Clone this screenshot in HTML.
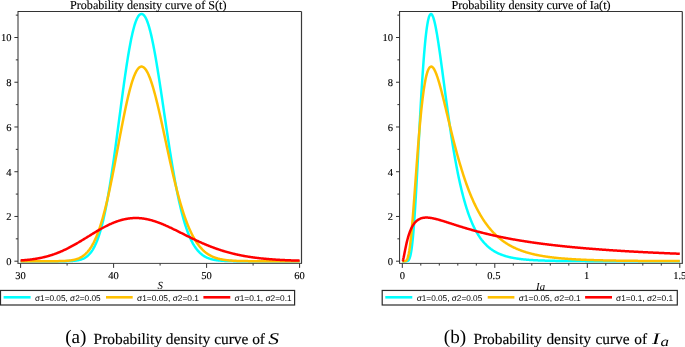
<!DOCTYPE html>
<html><head><meta charset="utf-8"><title>Probability density curves</title>
<style>html,body{margin:0;padding:0;background:#fff}svg{display:block;will-change:transform}</style></head>
<body>
<svg width="685" height="347" viewBox="0 0 685 347">
<style>
text{font-family:"Liberation Serif",serif;fill:#000;text-rendering:geometricPrecision}
.tk{font-size:10.5px;stroke:#000;stroke-width:0.12px}
.ti{font-size:12.15px;stroke:#000;stroke-width:0.12px}
.xl{font-size:10.8px;font-style:italic}
.lg{font-family:"Liberation Sans",sans-serif;font-size:8.3px;fill:#000}
.cp{font-size:15.4px;fill:#000;stroke:#000;stroke-width:0.15px}
.cl{font-size:19.2px;fill:#000}
.mi{font-size:15px;font-style:italic;fill:#000}
</style>
<rect width="685" height="347" fill="#fff"/>
<line x1="18" y1="11.5" x2="301.5" y2="11.5" stroke="#333" stroke-width="1"/>
<line x1="301.5" y1="11.5" x2="301.5" y2="263.4" stroke="#3a3a3a" stroke-width="1.2"/>
<line x1="18" y1="11.0" x2="18" y2="263.4" stroke="#2a2a2a" stroke-width="1"/>
<path d="M20.60,261.20 L21.07,261.20 L21.53,261.20 L22.00,261.20 L22.46,261.20 L22.93,261.20 L23.39,261.20 L23.86,261.20 L24.33,261.20 L24.79,261.20 L25.26,261.20 L25.72,261.20 L26.19,261.20 L26.66,261.20 L27.12,261.20 L27.59,261.20 L28.05,261.20 L28.52,261.20 L28.98,261.20 L29.45,261.20 L29.92,261.20 L30.38,261.20 L30.85,261.20 L31.31,261.20 L31.78,261.20 L32.24,261.20 L32.71,261.20 L33.18,261.20 L33.64,261.20 L34.11,261.20 L34.57,261.20 L35.04,261.20 L35.50,261.20 L35.97,261.20 L36.44,261.20 L36.90,261.20 L37.37,261.20 L37.83,261.20 L38.30,261.20 L38.77,261.20 L39.23,261.20 L39.70,261.20 L40.16,261.20 L40.63,261.20 L41.09,261.20 L41.56,261.20 L42.03,261.20 L42.49,261.20 L42.96,261.20 L43.42,261.20 L43.89,261.20 L44.35,261.20 L44.82,261.20 L45.29,261.20 L45.75,261.20 L46.22,261.20 L46.68,261.20 L47.15,261.20 L47.62,261.20 L48.08,261.20 L48.55,261.20 L49.01,261.20 L49.48,261.20 L49.94,261.20 L50.41,261.20 L50.88,261.20 L51.34,261.20 L51.81,261.20 L52.27,261.20 L52.74,261.20 L53.20,261.20 L53.67,261.20 L54.14,261.20 L54.60,261.20 L55.07,261.20 L55.53,261.20 L56.00,261.20 L56.46,261.20 L56.93,261.19 L57.40,261.19 L57.86,261.19 L58.33,261.19 L58.79,261.19 L59.26,261.19 L59.73,261.19 L60.19,261.19 L60.66,261.19 L61.12,261.18 L61.59,261.18 L62.05,261.18 L62.52,261.18 L62.99,261.17 L63.45,261.17 L63.92,261.16 L64.38,261.16 L64.85,261.15 L65.31,261.15 L65.78,261.14 L66.25,261.13 L66.71,261.13 L67.18,261.12 L67.64,261.11 L68.11,261.09 L68.57,261.08 L69.04,261.07 L69.51,261.05 L69.97,261.03 L70.44,261.02 L70.90,260.99 L71.37,260.97 L71.84,260.95 L72.30,260.92 L72.77,260.89 L73.23,260.85 L73.70,260.81 L74.16,260.77 L74.63,260.73 L75.10,260.68 L75.56,260.62 L76.03,260.57 L76.49,260.50 L76.96,260.43 L77.42,260.36 L77.89,260.27 L78.36,260.18 L78.82,260.08 L79.29,259.98 L79.75,259.86 L80.22,259.74 L80.69,259.60 L81.15,259.46 L81.62,259.30 L82.08,259.13 L82.55,258.95 L83.01,258.75 L83.48,258.54 L83.95,258.31 L84.41,258.07 L84.88,257.81 L85.34,257.53 L85.81,257.23 L86.27,256.91 L86.74,256.57 L87.21,256.20 L87.67,255.81 L88.14,255.40 L88.60,254.96 L89.07,254.49 L89.53,254.00 L90.00,253.47 L90.47,252.91 L90.93,252.32 L91.40,251.69 L91.86,251.03 L92.33,250.33 L92.80,249.59 L93.26,248.81 L93.73,247.99 L94.19,247.13 L94.66,246.22 L95.12,245.27 L95.59,244.27 L96.06,243.22 L96.52,242.13 L96.99,240.98 L97.45,239.78 L97.92,238.52 L98.38,237.21 L98.85,235.84 L99.32,234.42 L99.78,232.94 L100.25,231.39 L100.71,229.79 L101.18,228.13 L101.65,226.40 L102.11,224.61 L102.58,222.76 L103.04,220.85 L103.51,218.87 L103.97,216.82 L104.44,214.71 L104.91,212.54 L105.37,210.29 L105.84,207.99 L106.30,205.62 L106.77,203.18 L107.23,200.68 L107.70,198.12 L108.17,195.50 L108.63,192.81 L109.10,190.06 L109.56,187.25 L110.03,184.39 L110.49,181.47 L110.96,178.49 L111.43,175.46 L111.89,172.38 L112.36,169.24 L112.82,166.07 L113.29,162.84 L113.76,159.58 L114.22,156.27 L114.69,152.93 L115.15,149.55 L115.62,146.14 L116.08,142.71 L116.55,139.25 L117.02,135.76 L117.48,132.26 L117.95,128.75 L118.41,125.22 L118.88,121.69 L119.34,118.15 L119.81,114.61 L120.28,111.08 L120.74,107.56 L121.21,104.04 L121.67,100.55 L122.14,97.07 L122.61,93.62 L123.07,90.20 L123.54,86.80 L124.00,83.45 L124.47,80.14 L124.93,76.87 L125.40,73.64 L125.87,70.48 L126.33,67.36 L126.80,64.31 L127.26,61.32 L127.73,58.40 L128.19,55.55 L128.66,52.77 L129.13,50.07 L129.59,47.45 L130.06,44.91 L130.52,42.46 L130.99,40.10 L131.45,37.83 L131.92,35.66 L132.39,33.58 L132.85,31.60 L133.32,29.72 L133.78,27.95 L134.25,26.28 L134.72,24.71 L135.18,23.25 L135.65,21.89 L136.11,20.65 L136.58,19.51 L137.04,18.48 L137.51,17.57 L137.98,16.75 L138.44,16.05 L138.91,15.46 L139.37,14.97 L139.84,14.58 L140.30,14.30 L140.77,14.11 L141.24,14.02 L141.70,14.02 L142.17,14.10 L142.63,14.27 L143.10,14.53 L143.56,14.90 L144.03,15.37 L144.50,15.94 L144.96,16.61 L145.43,17.38 L145.89,18.26 L146.36,19.24 L146.83,20.32 L147.29,21.50 L147.76,22.78 L148.22,24.15 L148.69,25.63 L149.15,27.20 L149.62,28.86 L150.09,30.61 L150.55,32.45 L151.02,34.38 L151.48,36.40 L151.95,38.49 L152.41,40.67 L152.88,42.92 L153.35,45.25 L153.81,47.65 L154.28,50.11 L154.74,52.65 L155.21,55.24 L155.68,57.89 L156.14,60.60 L156.61,63.36 L157.07,66.18 L157.54,69.03 L158.00,71.93 L158.47,74.87 L158.94,77.85 L159.40,80.86 L159.87,83.90 L160.33,86.97 L160.80,90.06 L161.26,93.17 L161.73,96.29 L162.20,99.43 L162.66,102.58 L163.13,105.74 L163.59,108.91 L164.06,112.07 L164.52,115.23 L164.99,118.39 L165.46,121.55 L165.92,124.69 L166.39,127.82 L166.85,130.93 L167.32,134.03 L167.79,137.11 L168.25,140.17 L168.72,143.20 L169.18,146.21 L169.65,149.19 L170.11,152.14 L170.58,155.05 L171.05,157.94 L171.51,160.79 L171.98,163.60 L172.44,166.37 L172.91,169.11 L173.37,171.80 L173.84,174.45 L174.31,177.06 L174.77,179.63 L175.24,182.15 L175.70,184.62 L176.17,187.05 L176.64,189.43 L177.10,191.77 L177.57,194.05 L178.03,196.29 L178.50,198.48 L178.96,200.62 L179.43,202.72 L179.90,204.76 L180.36,206.76 L180.83,208.70 L181.29,210.60 L181.76,212.45 L182.22,214.25 L182.69,216.00 L183.16,217.71 L183.62,219.37 L184.09,220.98 L184.55,222.54 L185.02,224.06 L185.48,225.53 L185.95,226.96 L186.42,228.35 L186.88,229.69 L187.35,230.99 L187.81,232.24 L188.28,233.46 L188.75,234.64 L189.21,235.77 L189.68,236.87 L190.14,237.93 L190.61,238.95 L191.07,239.93 L191.54,240.88 L192.01,241.80 L192.47,242.68 L192.94,243.52 L193.40,244.34 L193.87,245.12 L194.33,245.88 L194.80,246.60 L195.27,247.29 L195.73,247.96 L196.20,248.60 L196.66,249.21 L197.13,249.80 L197.59,250.37 L198.06,250.90 L198.53,251.42 L198.99,251.91 L199.46,252.39 L199.92,252.84 L200.39,253.27 L200.86,253.68 L201.32,254.07 L201.79,254.45 L202.25,254.81 L202.72,255.15 L203.18,255.47 L203.65,255.78 L204.12,256.08 L204.58,256.36 L205.05,256.62 L205.51,256.88 L205.98,257.12 L206.44,257.35 L206.91,257.56 L207.38,257.77 L207.84,257.97 L208.31,258.15 L208.77,258.33 L209.24,258.50 L209.71,258.65 L210.17,258.80 L210.64,258.94 L211.10,259.08 L211.57,259.21 L212.03,259.33 L212.50,259.44 L212.97,259.55 L213.43,259.65 L213.90,259.74 L214.36,259.83 L214.83,259.92 L215.29,260.00 L215.76,260.07 L216.23,260.14 L216.69,260.21 L217.16,260.27 L217.62,260.33 L218.09,260.39 L218.55,260.44 L219.02,260.49 L219.49,260.54 L219.95,260.58 L220.42,260.62 L220.88,260.66 L221.35,260.70 L221.82,260.73 L222.28,260.76 L222.75,260.79 L223.21,260.82 L223.68,260.84 L224.14,260.87 L224.61,260.89 L225.08,260.91 L225.54,260.93 L226.01,260.95 L226.47,260.97 L226.94,260.99 L227.40,261.00 L227.87,261.01 L228.34,261.03 L228.80,261.04 L229.27,261.05 L229.73,261.06 L230.20,261.07 L230.67,261.08 L231.13,261.09 L231.60,261.10 L232.06,261.11 L232.53,261.11 L232.99,261.12 L233.46,261.13 L233.93,261.13 L234.39,261.14 L234.86,261.14 L235.32,261.15 L235.79,261.15 L236.25,261.15 L236.72,261.16 L237.19,261.16 L237.65,261.16 L238.12,261.17 L238.58,261.17 L239.05,261.17 L239.51,261.17 L239.98,261.18 L240.45,261.18 L240.91,261.18 L241.38,261.18 L241.84,261.18 L242.31,261.18 L242.78,261.19 L243.24,261.19 L243.71,261.19 L244.17,261.19 L244.64,261.19 L245.10,261.19 L245.57,261.19 L246.04,261.19 L246.50,261.19 L246.97,261.19 L247.43,261.19 L247.90,261.19 L248.36,261.19 L248.83,261.20 L249.30,261.20 L249.76,261.20 L250.23,261.20 L250.69,261.20 L251.16,261.20 L251.63,261.20 L252.09,261.20 L252.56,261.20 L253.02,261.20 L253.49,261.20 L253.95,261.20 L254.42,261.20 L254.89,261.20 L255.35,261.20 L255.82,261.20 L256.28,261.20 L256.75,261.20 L257.21,261.20 L257.68,261.20 L258.15,261.20 L258.61,261.20 L259.08,261.20 L259.54,261.20 L260.01,261.20 L260.47,261.20 L260.94,261.20 L261.41,261.20 L261.87,261.20 L262.34,261.20 L262.80,261.20 L263.27,261.20 L263.74,261.20 L264.20,261.20 L264.67,261.20 L265.13,261.20 L265.60,261.20 L266.06,261.20 L266.53,261.20 L267.00,261.20 L267.46,261.20 L267.93,261.20 L268.39,261.20 L268.86,261.20 L269.32,261.20 L269.79,261.20 L270.26,261.20 L270.72,261.20 L271.19,261.20 L271.65,261.20 L272.12,261.20 L272.58,261.20 L273.05,261.20 L273.52,261.20 L273.98,261.20 L274.45,261.20 L274.91,261.20 L275.38,261.20 L275.85,261.20 L276.31,261.20 L276.78,261.20 L277.24,261.20 L277.71,261.20 L278.17,261.20 L278.64,261.20 L279.11,261.20 L279.57,261.20 L280.04,261.20 L280.50,261.20 L280.97,261.20 L281.43,261.20 L281.90,261.20 L282.37,261.20 L282.83,261.20 L283.30,261.20 L283.76,261.20 L284.23,261.20 L284.70,261.20 L285.16,261.20 L285.63,261.20 L286.09,261.20 L286.56,261.20 L287.02,261.20 L287.49,261.20 L287.96,261.20 L288.42,261.20 L288.89,261.20 L289.35,261.20 L289.82,261.20 L290.28,261.20 L290.75,261.20 L291.22,261.20 L291.68,261.20 L292.15,261.20 L292.61,261.20 L293.08,261.20 L293.54,261.20 L294.01,261.20 L294.48,261.20 L294.94,261.20 L295.41,261.20 L295.87,261.20 L296.34,261.20 L296.81,261.20 L297.27,261.20 L297.74,261.20 L298.20,261.20 L298.67,261.20 L299.13,261.20 L299.60,261.20" fill="none" stroke="#00ffff" stroke-width="2.5" stroke-linejoin="round" stroke-linecap="butt"/>
<path d="M20.60,261.20 L21.07,261.20 L21.53,261.20 L22.00,261.20 L22.46,261.20 L22.93,261.20 L23.39,261.20 L23.86,261.20 L24.33,261.20 L24.79,261.20 L25.26,261.20 L25.72,261.20 L26.19,261.20 L26.66,261.20 L27.12,261.20 L27.59,261.20 L28.05,261.20 L28.52,261.20 L28.98,261.20 L29.45,261.20 L29.92,261.20 L30.38,261.20 L30.85,261.20 L31.31,261.20 L31.78,261.20 L32.24,261.20 L32.71,261.20 L33.18,261.20 L33.64,261.20 L34.11,261.20 L34.57,261.20 L35.04,261.20 L35.50,261.20 L35.97,261.20 L36.44,261.20 L36.90,261.20 L37.37,261.20 L37.83,261.20 L38.30,261.20 L38.77,261.20 L39.23,261.20 L39.70,261.20 L40.16,261.20 L40.63,261.20 L41.09,261.20 L41.56,261.20 L42.03,261.20 L42.49,261.20 L42.96,261.20 L43.42,261.20 L43.89,261.20 L44.35,261.20 L44.82,261.20 L45.29,261.20 L45.75,261.20 L46.22,261.20 L46.68,261.20 L47.15,261.19 L47.62,261.19 L48.08,261.19 L48.55,261.19 L49.01,261.19 L49.48,261.19 L49.94,261.19 L50.41,261.19 L50.88,261.19 L51.34,261.18 L51.81,261.18 L52.27,261.18 L52.74,261.18 L53.20,261.18 L53.67,261.17 L54.14,261.17 L54.60,261.17 L55.07,261.16 L55.53,261.16 L56.00,261.15 L56.46,261.15 L56.93,261.14 L57.40,261.14 L57.86,261.13 L58.33,261.13 L58.79,261.12 L59.26,261.11 L59.73,261.10 L60.19,261.09 L60.66,261.08 L61.12,261.07 L61.59,261.05 L62.05,261.04 L62.52,261.02 L62.99,261.01 L63.45,260.99 L63.92,260.97 L64.38,260.94 L64.85,260.92 L65.31,260.90 L65.78,260.87 L66.25,260.84 L66.71,260.80 L67.18,260.77 L67.64,260.73 L68.11,260.69 L68.57,260.65 L69.04,260.60 L69.51,260.55 L69.97,260.49 L70.44,260.43 L70.90,260.37 L71.37,260.30 L71.84,260.23 L72.30,260.15 L72.77,260.06 L73.23,259.97 L73.70,259.88 L74.16,259.77 L74.63,259.66 L75.10,259.55 L75.56,259.42 L76.03,259.29 L76.49,259.15 L76.96,258.99 L77.42,258.83 L77.89,258.66 L78.36,258.48 L78.82,258.29 L79.29,258.09 L79.75,257.87 L80.22,257.64 L80.69,257.40 L81.15,257.14 L81.62,256.87 L82.08,256.58 L82.55,256.28 L83.01,255.96 L83.48,255.63 L83.95,255.28 L84.41,254.90 L84.88,254.51 L85.34,254.10 L85.81,253.67 L86.27,253.22 L86.74,252.74 L87.21,252.25 L87.67,251.73 L88.14,251.18 L88.60,250.61 L89.07,250.01 L89.53,249.39 L90.00,248.74 L90.47,248.06 L90.93,247.35 L91.40,246.62 L91.86,245.85 L92.33,245.05 L92.80,244.22 L93.26,243.36 L93.73,242.47 L94.19,241.54 L94.66,240.57 L95.12,239.58 L95.59,238.54 L96.06,237.47 L96.52,236.37 L96.99,235.22 L97.45,234.04 L97.92,232.82 L98.38,231.57 L98.85,230.27 L99.32,228.94 L99.78,227.56 L100.25,226.15 L100.71,224.69 L101.18,223.20 L101.65,221.67 L102.11,220.10 L102.58,218.48 L103.04,216.83 L103.51,215.14 L103.97,213.41 L104.44,211.64 L104.91,209.83 L105.37,207.98 L105.84,206.10 L106.30,204.17 L106.77,202.21 L107.23,200.22 L107.70,198.19 L108.17,196.13 L108.63,194.03 L109.10,191.90 L109.56,189.73 L110.03,187.54 L110.49,185.32 L110.96,183.07 L111.43,180.79 L111.89,178.49 L112.36,176.16 L112.82,173.81 L113.29,171.44 L113.76,169.05 L114.22,166.65 L114.69,164.22 L115.15,161.79 L115.62,159.34 L116.08,156.88 L116.55,154.41 L117.02,151.94 L117.48,149.46 L117.95,146.98 L118.41,144.49 L118.88,142.01 L119.34,139.54 L119.81,137.07 L120.28,134.61 L120.74,132.16 L121.21,129.72 L121.67,127.30 L122.14,124.89 L122.61,122.51 L123.07,120.15 L123.54,117.81 L124.00,115.50 L124.47,113.22 L124.93,110.97 L125.40,108.75 L125.87,106.57 L126.33,104.43 L126.80,102.33 L127.26,100.27 L127.73,98.25 L128.19,96.28 L128.66,94.36 L129.13,92.49 L129.59,90.68 L130.06,88.91 L130.52,87.21 L130.99,85.56 L131.45,83.97 L131.92,82.44 L132.39,80.98 L132.85,79.58 L133.32,78.24 L133.78,76.98 L134.25,75.78 L134.72,74.65 L135.18,73.59 L135.65,72.60 L136.11,71.69 L136.58,70.85 L137.04,70.08 L137.51,69.39 L137.98,68.77 L138.44,68.23 L138.91,67.77 L139.37,67.38 L139.84,67.07 L140.30,66.83 L140.77,66.67 L141.24,66.59 L141.70,66.59 L142.17,66.66 L142.63,66.80 L143.10,67.02 L143.56,67.30 L144.03,67.66 L144.50,68.10 L144.96,68.60 L145.43,69.17 L145.89,69.81 L146.36,70.52 L146.83,71.30 L147.29,72.14 L147.76,73.05 L148.22,74.02 L148.69,75.06 L149.15,76.15 L149.62,77.31 L150.09,78.52 L150.55,79.79 L151.02,81.11 L151.48,82.49 L151.95,83.92 L152.41,85.40 L152.88,86.93 L153.35,88.51 L153.81,90.13 L154.28,91.80 L154.74,93.51 L155.21,95.26 L155.68,97.04 L156.14,98.86 L156.61,100.72 L157.07,102.61 L157.54,104.53 L158.00,106.48 L158.47,108.46 L158.94,110.46 L159.40,112.49 L159.87,114.54 L160.33,116.60 L160.80,118.69 L161.26,120.79 L161.73,122.91 L162.20,125.04 L162.66,127.18 L163.13,129.32 L163.59,131.48 L164.06,133.64 L164.52,135.81 L164.99,137.98 L165.46,140.15 L165.92,142.32 L166.39,144.49 L166.85,146.66 L167.32,148.82 L167.79,150.98 L168.25,153.12 L168.72,155.26 L169.18,157.39 L169.65,159.51 L170.11,161.61 L170.58,163.71 L171.05,165.78 L171.51,167.85 L171.98,169.89 L172.44,171.92 L172.91,173.93 L173.37,175.92 L173.84,177.89 L174.31,179.83 L174.77,181.76 L175.24,183.67 L175.70,185.55 L176.17,187.40 L176.64,189.24 L177.10,191.04 L177.57,192.83 L178.03,194.58 L178.50,196.31 L178.96,198.02 L179.43,199.70 L179.90,201.35 L180.36,202.97 L180.83,204.56 L181.29,206.13 L181.76,207.67 L182.22,209.18 L182.69,210.66 L183.16,212.11 L183.62,213.54 L184.09,214.94 L184.55,216.30 L185.02,217.65 L185.48,218.96 L185.95,220.24 L186.42,221.50 L186.88,222.72 L187.35,223.92 L187.81,225.10 L188.28,226.24 L188.75,227.36 L189.21,228.45 L189.68,229.52 L190.14,230.55 L190.61,231.57 L191.07,232.55 L191.54,233.51 L192.01,234.45 L192.47,235.36 L192.94,236.25 L193.40,237.11 L193.87,237.95 L194.33,238.76 L194.80,239.55 L195.27,240.32 L195.73,241.07 L196.20,241.80 L196.66,242.50 L197.13,243.18 L197.59,243.85 L198.06,244.49 L198.53,245.11 L198.99,245.72 L199.46,246.30 L199.92,246.87 L200.39,247.42 L200.86,247.95 L201.32,248.46 L201.79,248.96 L202.25,249.44 L202.72,249.90 L203.18,250.35 L203.65,250.78 L204.12,251.20 L204.58,251.60 L205.05,251.99 L205.51,252.37 L205.98,252.73 L206.44,253.08 L206.91,253.42 L207.38,253.75 L207.84,254.06 L208.31,254.36 L208.77,254.65 L209.24,254.93 L209.71,255.20 L210.17,255.46 L210.64,255.71 L211.10,255.95 L211.57,256.18 L212.03,256.40 L212.50,256.61 L212.97,256.81 L213.43,257.01 L213.90,257.20 L214.36,257.38 L214.83,257.55 L215.29,257.72 L215.76,257.88 L216.23,258.03 L216.69,258.18 L217.16,258.32 L217.62,258.45 L218.09,258.58 L218.55,258.70 L219.02,258.82 L219.49,258.93 L219.95,259.04 L220.42,259.14 L220.88,259.24 L221.35,259.34 L221.82,259.43 L222.28,259.51 L222.75,259.60 L223.21,259.68 L223.68,259.75 L224.14,259.82 L224.61,259.89 L225.08,259.96 L225.54,260.02 L226.01,260.08 L226.47,260.13 L226.94,260.19 L227.40,260.24 L227.87,260.29 L228.34,260.34 L228.80,260.38 L229.27,260.42 L229.73,260.46 L230.20,260.50 L230.67,260.54 L231.13,260.57 L231.60,260.61 L232.06,260.64 L232.53,260.67 L232.99,260.70 L233.46,260.72 L233.93,260.75 L234.39,260.77 L234.86,260.80 L235.32,260.82 L235.79,260.84 L236.25,260.86 L236.72,260.88 L237.19,260.89 L237.65,260.91 L238.12,260.93 L238.58,260.94 L239.05,260.96 L239.51,260.97 L239.98,260.98 L240.45,261.00 L240.91,261.01 L241.38,261.02 L241.84,261.03 L242.31,261.04 L242.78,261.05 L243.24,261.06 L243.71,261.06 L244.17,261.07 L244.64,261.08 L245.10,261.09 L245.57,261.09 L246.04,261.10 L246.50,261.11 L246.97,261.11 L247.43,261.12 L247.90,261.12 L248.36,261.13 L248.83,261.13 L249.30,261.13 L249.76,261.14 L250.23,261.14 L250.69,261.15 L251.16,261.15 L251.63,261.15 L252.09,261.15 L252.56,261.16 L253.02,261.16 L253.49,261.16 L253.95,261.16 L254.42,261.17 L254.89,261.17 L255.35,261.17 L255.82,261.17 L256.28,261.17 L256.75,261.18 L257.21,261.18 L257.68,261.18 L258.15,261.18 L258.61,261.18 L259.08,261.18 L259.54,261.18 L260.01,261.18 L260.47,261.19 L260.94,261.19 L261.41,261.19 L261.87,261.19 L262.34,261.19 L262.80,261.19 L263.27,261.19 L263.74,261.19 L264.20,261.19 L264.67,261.19 L265.13,261.19 L265.60,261.19 L266.06,261.19 L266.53,261.19 L267.00,261.19 L267.46,261.19 L267.93,261.20 L268.39,261.20 L268.86,261.20 L269.32,261.20 L269.79,261.20 L270.26,261.20 L270.72,261.20 L271.19,261.20 L271.65,261.20 L272.12,261.20 L272.58,261.20 L273.05,261.20 L273.52,261.20 L273.98,261.20 L274.45,261.20 L274.91,261.20 L275.38,261.20 L275.85,261.20 L276.31,261.20 L276.78,261.20 L277.24,261.20 L277.71,261.20 L278.17,261.20 L278.64,261.20 L279.11,261.20 L279.57,261.20 L280.04,261.20 L280.50,261.20 L280.97,261.20 L281.43,261.20 L281.90,261.20 L282.37,261.20 L282.83,261.20 L283.30,261.20 L283.76,261.20 L284.23,261.20 L284.70,261.20 L285.16,261.20 L285.63,261.20 L286.09,261.20 L286.56,261.20 L287.02,261.20 L287.49,261.20 L287.96,261.20 L288.42,261.20 L288.89,261.20 L289.35,261.20 L289.82,261.20 L290.28,261.20 L290.75,261.20 L291.22,261.20 L291.68,261.20 L292.15,261.20 L292.61,261.20 L293.08,261.20 L293.54,261.20 L294.01,261.20 L294.48,261.20 L294.94,261.20 L295.41,261.20 L295.87,261.20 L296.34,261.20 L296.81,261.20 L297.27,261.20 L297.74,261.20 L298.20,261.20 L298.67,261.20 L299.13,261.20 L299.60,261.20" fill="none" stroke="#ffc000" stroke-width="2.5" stroke-linejoin="round" stroke-linecap="butt"/>
<path d="M20.60,260.43 L21.07,260.39 L21.53,260.36 L22.00,260.33 L22.46,260.30 L22.93,260.26 L23.39,260.23 L23.86,260.19 L24.33,260.15 L24.79,260.11 L25.26,260.07 L25.72,260.03 L26.19,259.99 L26.66,259.94 L27.12,259.90 L27.59,259.85 L28.05,259.80 L28.52,259.75 L28.98,259.70 L29.45,259.65 L29.92,259.60 L30.38,259.54 L30.85,259.49 L31.31,259.43 L31.78,259.37 L32.24,259.31 L32.71,259.24 L33.18,259.18 L33.64,259.11 L34.11,259.04 L34.57,258.97 L35.04,258.90 L35.50,258.83 L35.97,258.75 L36.44,258.68 L36.90,258.60 L37.37,258.52 L37.83,258.43 L38.30,258.35 L38.77,258.26 L39.23,258.18 L39.70,258.08 L40.16,257.99 L40.63,257.90 L41.09,257.80 L41.56,257.70 L42.03,257.60 L42.49,257.50 L42.96,257.39 L43.42,257.29 L43.89,257.18 L44.35,257.06 L44.82,256.95 L45.29,256.83 L45.75,256.72 L46.22,256.59 L46.68,256.47 L47.15,256.35 L47.62,256.22 L48.08,256.09 L48.55,255.95 L49.01,255.82 L49.48,255.68 L49.94,255.54 L50.41,255.40 L50.88,255.25 L51.34,255.11 L51.81,254.96 L52.27,254.80 L52.74,254.65 L53.20,254.49 L53.67,254.33 L54.14,254.17 L54.60,254.00 L55.07,253.84 L55.53,253.67 L56.00,253.50 L56.46,253.32 L56.93,253.14 L57.40,252.96 L57.86,252.78 L58.33,252.60 L58.79,252.41 L59.26,252.22 L59.73,252.03 L60.19,251.83 L60.66,251.63 L61.12,251.43 L61.59,251.23 L62.05,251.03 L62.52,250.82 L62.99,250.61 L63.45,250.40 L63.92,250.18 L64.38,249.96 L64.85,249.75 L65.31,249.52 L65.78,249.30 L66.25,249.07 L66.71,248.85 L67.18,248.61 L67.64,248.38 L68.11,248.15 L68.57,247.91 L69.04,247.67 L69.51,247.43 L69.97,247.19 L70.44,246.94 L70.90,246.69 L71.37,246.44 L71.84,246.19 L72.30,245.94 L72.77,245.68 L73.23,245.43 L73.70,245.17 L74.16,244.91 L74.63,244.65 L75.10,244.38 L75.56,244.12 L76.03,243.85 L76.49,243.58 L76.96,243.31 L77.42,243.04 L77.89,242.77 L78.36,242.50 L78.82,242.22 L79.29,241.95 L79.75,241.67 L80.22,241.39 L80.69,241.11 L81.15,240.83 L81.62,240.55 L82.08,240.27 L82.55,239.98 L83.01,239.70 L83.48,239.42 L83.95,239.13 L84.41,238.85 L84.88,238.56 L85.34,238.27 L85.81,237.99 L86.27,237.70 L86.74,237.41 L87.21,237.13 L87.67,236.84 L88.14,236.55 L88.60,236.26 L89.07,235.98 L89.53,235.69 L90.00,235.40 L90.47,235.12 L90.93,234.83 L91.40,234.54 L91.86,234.26 L92.33,233.97 L92.80,233.69 L93.26,233.40 L93.73,233.12 L94.19,232.84 L94.66,232.56 L95.12,232.28 L95.59,232.00 L96.06,231.72 L96.52,231.44 L96.99,231.17 L97.45,230.90 L97.92,230.62 L98.38,230.35 L98.85,230.08 L99.32,229.81 L99.78,229.55 L100.25,229.28 L100.71,229.02 L101.18,228.76 L101.65,228.50 L102.11,228.24 L102.58,227.98 L103.04,227.73 L103.51,227.48 L103.97,227.23 L104.44,226.98 L104.91,226.74 L105.37,226.50 L105.84,226.26 L106.30,226.02 L106.77,225.79 L107.23,225.56 L107.70,225.33 L108.17,225.10 L108.63,224.88 L109.10,224.66 L109.56,224.44 L110.03,224.22 L110.49,224.01 L110.96,223.80 L111.43,223.60 L111.89,223.39 L112.36,223.20 L112.82,223.00 L113.29,222.81 L113.76,222.62 L114.22,222.43 L114.69,222.25 L115.15,222.07 L115.62,221.89 L116.08,221.72 L116.55,221.55 L117.02,221.39 L117.48,221.23 L117.95,221.07 L118.41,220.92 L118.88,220.77 L119.34,220.62 L119.81,220.48 L120.28,220.34 L120.74,220.20 L121.21,220.07 L121.67,219.95 L122.14,219.82 L122.61,219.70 L123.07,219.59 L123.54,219.48 L124.00,219.37 L124.47,219.27 L124.93,219.17 L125.40,219.07 L125.87,218.98 L126.33,218.90 L126.80,218.81 L127.26,218.73 L127.73,218.66 L128.19,218.59 L128.66,218.52 L129.13,218.46 L129.59,218.40 L130.06,218.35 L130.52,218.30 L130.99,218.25 L131.45,218.21 L131.92,218.18 L132.39,218.14 L132.85,218.11 L133.32,218.09 L133.78,218.07 L134.25,218.05 L134.72,218.04 L135.18,218.03 L135.65,218.03 L136.11,218.03 L136.58,218.03 L137.04,218.04 L137.51,218.05 L137.98,218.07 L138.44,218.09 L138.91,218.11 L139.37,218.14 L139.84,218.18 L140.30,218.22 L140.77,218.26 L141.24,218.30 L141.70,218.35 L142.17,218.41 L142.63,218.47 L143.10,218.53 L143.56,218.59 L144.03,218.66 L144.50,218.74 L144.96,218.82 L145.43,218.90 L145.89,218.98 L146.36,219.07 L146.83,219.16 L147.29,219.26 L147.76,219.36 L148.22,219.46 L148.69,219.57 L149.15,219.68 L149.62,219.80 L150.09,219.91 L150.55,220.04 L151.02,220.16 L151.48,220.29 L151.95,220.42 L152.41,220.55 L152.88,220.69 L153.35,220.83 L153.81,220.97 L154.28,221.12 L154.74,221.27 L155.21,221.42 L155.68,221.58 L156.14,221.73 L156.61,221.89 L157.07,222.06 L157.54,222.22 L158.00,222.39 L158.47,222.56 L158.94,222.74 L159.40,222.91 L159.87,223.09 L160.33,223.27 L160.80,223.46 L161.26,223.64 L161.73,223.83 L162.20,224.02 L162.66,224.21 L163.13,224.40 L163.59,224.60 L164.06,224.80 L164.52,225.00 L164.99,225.20 L165.46,225.40 L165.92,225.61 L166.39,225.81 L166.85,226.02 L167.32,226.23 L167.79,226.44 L168.25,226.66 L168.72,226.87 L169.18,227.09 L169.65,227.30 L170.11,227.52 L170.58,227.74 L171.05,227.96 L171.51,228.18 L171.98,228.40 L172.44,228.63 L172.91,228.85 L173.37,229.08 L173.84,229.30 L174.31,229.53 L174.77,229.76 L175.24,229.99 L175.70,230.22 L176.17,230.45 L176.64,230.68 L177.10,230.91 L177.57,231.14 L178.03,231.37 L178.50,231.60 L178.96,231.83 L179.43,232.07 L179.90,232.30 L180.36,232.53 L180.83,232.77 L181.29,233.00 L181.76,233.23 L182.22,233.47 L182.69,233.70 L183.16,233.94 L183.62,234.17 L184.09,234.40 L184.55,234.64 L185.02,234.87 L185.48,235.10 L185.95,235.34 L186.42,235.57 L186.88,235.80 L187.35,236.03 L187.81,236.26 L188.28,236.49 L188.75,236.72 L189.21,236.95 L189.68,237.18 L190.14,237.41 L190.61,237.64 L191.07,237.87 L191.54,238.10 L192.01,238.32 L192.47,238.55 L192.94,238.77 L193.40,239.00 L193.87,239.22 L194.33,239.44 L194.80,239.66 L195.27,239.88 L195.73,240.10 L196.20,240.32 L196.66,240.54 L197.13,240.76 L197.59,240.97 L198.06,241.19 L198.53,241.40 L198.99,241.62 L199.46,241.83 L199.92,242.04 L200.39,242.25 L200.86,242.46 L201.32,242.67 L201.79,242.87 L202.25,243.08 L202.72,243.28 L203.18,243.48 L203.65,243.69 L204.12,243.89 L204.58,244.09 L205.05,244.28 L205.51,244.48 L205.98,244.68 L206.44,244.87 L206.91,245.06 L207.38,245.25 L207.84,245.44 L208.31,245.63 L208.77,245.82 L209.24,246.01 L209.71,246.19 L210.17,246.37 L210.64,246.56 L211.10,246.74 L211.57,246.92 L212.03,247.09 L212.50,247.27 L212.97,247.44 L213.43,247.62 L213.90,247.79 L214.36,247.96 L214.83,248.13 L215.29,248.30 L215.76,248.46 L216.23,248.63 L216.69,248.79 L217.16,248.95 L217.62,249.12 L218.09,249.27 L218.55,249.43 L219.02,249.59 L219.49,249.74 L219.95,249.90 L220.42,250.05 L220.88,250.20 L221.35,250.35 L221.82,250.50 L222.28,250.64 L222.75,250.79 L223.21,250.93 L223.68,251.07 L224.14,251.21 L224.61,251.35 L225.08,251.49 L225.54,251.63 L226.01,251.76 L226.47,251.89 L226.94,252.03 L227.40,252.16 L227.87,252.29 L228.34,252.41 L228.80,252.54 L229.27,252.67 L229.73,252.79 L230.20,252.91 L230.67,253.03 L231.13,253.15 L231.60,253.27 L232.06,253.39 L232.53,253.50 L232.99,253.62 L233.46,253.73 L233.93,253.84 L234.39,253.95 L234.86,254.06 L235.32,254.17 L235.79,254.28 L236.25,254.38 L236.72,254.48 L237.19,254.59 L237.65,254.69 L238.12,254.79 L238.58,254.89 L239.05,254.99 L239.51,255.08 L239.98,255.18 L240.45,255.27 L240.91,255.36 L241.38,255.46 L241.84,255.55 L242.31,255.64 L242.78,255.72 L243.24,255.81 L243.71,255.90 L244.17,255.98 L244.64,256.07 L245.10,256.15 L245.57,256.23 L246.04,256.31 L246.50,256.39 L246.97,256.47 L247.43,256.54 L247.90,256.62 L248.36,256.70 L248.83,256.77 L249.30,256.84 L249.76,256.91 L250.23,256.99 L250.69,257.06 L251.16,257.13 L251.63,257.19 L252.09,257.26 L252.56,257.33 L253.02,257.39 L253.49,257.46 L253.95,257.52 L254.42,257.58 L254.89,257.64 L255.35,257.70 L255.82,257.76 L256.28,257.82 L256.75,257.88 L257.21,257.94 L257.68,257.99 L258.15,258.05 L258.61,258.10 L259.08,258.16 L259.54,258.21 L260.01,258.26 L260.47,258.32 L260.94,258.37 L261.41,258.42 L261.87,258.46 L262.34,258.51 L262.80,258.56 L263.27,258.61 L263.74,258.65 L264.20,258.70 L264.67,258.74 L265.13,258.79 L265.60,258.83 L266.06,258.87 L266.53,258.92 L267.00,258.96 L267.46,259.00 L267.93,259.04 L268.39,259.08 L268.86,259.12 L269.32,259.15 L269.79,259.19 L270.26,259.23 L270.72,259.26 L271.19,259.30 L271.65,259.34 L272.12,259.37 L272.58,259.40 L273.05,259.44 L273.52,259.47 L273.98,259.50 L274.45,259.53 L274.91,259.57 L275.38,259.60 L275.85,259.63 L276.31,259.66 L276.78,259.69 L277.24,259.71 L277.71,259.74 L278.17,259.77 L278.64,259.80 L279.11,259.82 L279.57,259.85 L280.04,259.88 L280.50,259.90 L280.97,259.93 L281.43,259.95 L281.90,259.97 L282.37,260.00 L282.83,260.02 L283.30,260.04 L283.76,260.07 L284.23,260.09 L284.70,260.11 L285.16,260.13 L285.63,260.15 L286.09,260.17 L286.56,260.19 L287.02,260.21 L287.49,260.23 L287.96,260.25 L288.42,260.27 L288.89,260.29 L289.35,260.31 L289.82,260.33 L290.28,260.34 L290.75,260.36 L291.22,260.38 L291.68,260.39 L292.15,260.41 L292.61,260.43 L293.08,260.44 L293.54,260.46 L294.01,260.47 L294.48,260.49 L294.94,260.50 L295.41,260.51 L295.87,260.53 L296.34,260.54 L296.81,260.56 L297.27,260.57 L297.74,260.58 L298.20,260.59 L298.67,260.61 L299.13,260.62 L299.60,260.63" fill="none" stroke="#ff0000" stroke-width="2.5" stroke-linejoin="round" stroke-linecap="butt"/>
<line x1="17.5" y1="263.4" x2="302.0" y2="263.4" stroke="#444" stroke-width="1"/>
<line x1="14.4" y1="261.20" x2="18" y2="261.20" stroke="#333" stroke-width="1"/>
<text x="11.5" y="265.00" text-anchor="end" class="tk">0</text>
<line x1="15.8" y1="238.83" x2="18" y2="238.83" stroke="#333" stroke-width="1"/>
<line x1="14.4" y1="216.46" x2="18" y2="216.46" stroke="#333" stroke-width="1"/>
<text x="11.5" y="220.26" text-anchor="end" class="tk">2</text>
<line x1="15.8" y1="194.09" x2="18" y2="194.09" stroke="#333" stroke-width="1"/>
<line x1="14.4" y1="171.72" x2="18" y2="171.72" stroke="#333" stroke-width="1"/>
<text x="11.5" y="175.52" text-anchor="end" class="tk">4</text>
<line x1="15.8" y1="149.35" x2="18" y2="149.35" stroke="#333" stroke-width="1"/>
<line x1="14.4" y1="126.98" x2="18" y2="126.98" stroke="#333" stroke-width="1"/>
<text x="11.5" y="130.78" text-anchor="end" class="tk">6</text>
<line x1="15.8" y1="104.61" x2="18" y2="104.61" stroke="#333" stroke-width="1"/>
<line x1="14.4" y1="82.24" x2="18" y2="82.24" stroke="#333" stroke-width="1"/>
<text x="11.5" y="86.04" text-anchor="end" class="tk">8</text>
<line x1="15.8" y1="59.87" x2="18" y2="59.87" stroke="#333" stroke-width="1"/>
<line x1="14.4" y1="37.50" x2="18" y2="37.50" stroke="#333" stroke-width="1"/>
<text x="11.5" y="41.30" text-anchor="end" class="tk">10</text>
<line x1="15.8" y1="15.13" x2="18" y2="15.13" stroke="#333" stroke-width="1"/>
<line x1="20.60" y1="263.4" x2="20.60" y2="267.9" stroke="#333" stroke-width="1"/>
<text x="20.60" y="278.59999999999997" text-anchor="middle" class="tk">30</text>
<line x1="113.60" y1="263.4" x2="113.60" y2="267.9" stroke="#333" stroke-width="1"/>
<text x="113.60" y="278.59999999999997" text-anchor="middle" class="tk">40</text>
<line x1="206.60" y1="263.4" x2="206.60" y2="267.9" stroke="#333" stroke-width="1"/>
<text x="206.60" y="278.59999999999997" text-anchor="middle" class="tk">50</text>
<line x1="299.60" y1="263.4" x2="299.60" y2="267.9" stroke="#333" stroke-width="1"/>
<text x="299.60" y="278.59999999999997" text-anchor="middle" class="tk">60</text>
<line x1="67.10" y1="263.4" x2="67.10" y2="265.59999999999997" stroke="#333" stroke-width="1"/>
<line x1="160.10" y1="263.4" x2="160.10" y2="265.59999999999997" stroke="#333" stroke-width="1"/>
<line x1="253.10" y1="263.4" x2="253.10" y2="265.59999999999997" stroke="#333" stroke-width="1"/>
<text x="148.2" y="8.9" text-anchor="middle" class="ti">Probability density curve of S(t)</text>
<text x="160.2" y="289.3" text-anchor="middle" class="xl">S</text>
<line x1="399.6" y1="11.5" x2="682.3" y2="11.5" stroke="#333" stroke-width="1"/>
<line x1="682.3" y1="11.5" x2="682.3" y2="263.4" stroke="#3a3a3a" stroke-width="1.2"/>
<line x1="399.6" y1="11.0" x2="399.6" y2="263.4" stroke="#2a2a2a" stroke-width="1"/>
<path d="M402.30,261.20 L402.76,261.20 L403.23,261.20 L403.69,261.20 L404.15,261.20 L404.62,261.20 L405.08,261.20 L405.54,261.20 L406.01,261.19 L406.47,261.16 L406.93,261.10 L407.40,260.99 L407.86,260.77 L408.32,260.42 L408.79,259.86 L409.25,259.06 L409.71,257.93 L410.18,256.42 L410.64,254.48 L411.10,252.05 L411.57,249.09 L412.03,245.57 L412.49,241.48 L412.96,236.81 L413.42,231.56 L413.88,225.75 L414.35,219.42 L414.81,212.59 L415.27,205.32 L415.73,197.65 L416.20,189.63 L416.66,181.34 L417.12,172.82 L417.59,164.13 L418.05,155.35 L418.51,146.52 L418.98,137.71 L419.44,128.97 L419.90,120.35 L420.37,111.89 L420.83,103.65 L421.29,95.65 L421.76,87.94 L422.22,80.54 L422.68,73.48 L423.15,66.79 L423.61,60.47 L424.07,54.55 L424.54,49.03 L425.00,43.93 L425.46,39.24 L425.93,34.97 L426.39,31.12 L426.85,27.68 L427.32,24.66 L427.78,22.03 L428.24,19.80 L428.71,17.95 L429.17,16.47 L429.63,15.35 L430.10,14.58 L430.56,14.14 L431.02,14.01 L431.49,14.19 L431.95,14.66 L432.41,15.41 L432.88,16.41 L433.34,17.65 L433.80,19.12 L434.27,20.81 L434.73,22.70 L435.19,24.77 L435.66,27.01 L436.12,29.41 L436.58,31.96 L437.05,34.64 L437.51,37.44 L437.97,40.35 L438.44,43.35 L438.90,46.45 L439.36,49.62 L439.83,52.86 L440.29,56.15 L440.75,59.50 L441.21,62.89 L441.68,66.31 L442.14,69.76 L442.60,73.23 L443.07,76.71 L443.53,80.20 L443.99,83.69 L444.46,87.18 L444.92,90.65 L445.38,94.12 L445.85,97.57 L446.31,100.99 L446.77,104.39 L447.24,107.77 L447.70,111.11 L448.16,114.42 L448.63,117.69 L449.09,120.92 L449.55,124.12 L450.02,127.27 L450.48,130.38 L450.94,133.44 L451.41,136.45 L451.87,139.42 L452.33,142.34 L452.80,145.21 L453.26,148.03 L453.72,150.80 L454.19,153.52 L454.65,156.19 L455.11,158.81 L455.58,161.38 L456.04,163.89 L456.50,166.36 L456.97,168.77 L457.43,171.13 L457.89,173.45 L458.36,175.71 L458.82,177.92 L459.28,180.09 L459.75,182.20 L460.21,184.27 L460.67,186.29 L461.14,188.27 L461.60,190.19 L462.06,192.08 L462.53,193.91 L462.99,195.71 L463.45,197.46 L463.92,199.16 L464.38,200.83 L464.84,202.45 L465.31,204.04 L465.77,205.58 L466.23,207.09 L466.69,208.55 L467.16,209.98 L467.62,211.38 L468.08,212.73 L468.55,214.05 L469.01,215.34 L469.47,216.60 L469.94,217.82 L470.40,219.01 L470.86,220.16 L471.33,221.29 L471.79,222.39 L472.25,223.46 L472.72,224.50 L473.18,225.51 L473.64,226.49 L474.11,227.45 L474.57,228.38 L475.03,229.29 L475.50,230.17 L475.96,231.03 L476.42,231.86 L476.89,232.67 L477.35,233.46 L477.81,234.23 L478.28,234.98 L478.74,235.70 L479.20,236.41 L479.67,237.10 L480.13,237.76 L480.59,238.41 L481.06,239.04 L481.52,239.66 L481.98,240.25 L482.45,240.83 L482.91,241.40 L483.37,241.95 L483.84,242.48 L484.30,243.00 L484.76,243.50 L485.23,243.99 L485.69,244.47 L486.15,244.93 L486.62,245.38 L487.08,245.81 L487.54,246.24 L488.01,246.65 L488.47,247.05 L488.93,247.44 L489.40,247.82 L489.86,248.19 L490.32,248.55 L490.78,248.90 L491.25,249.23 L491.71,249.56 L492.17,249.88 L492.64,250.19 L493.10,250.49 L493.56,250.79 L494.03,251.07 L494.49,251.35 L494.95,251.62 L495.42,251.88 L495.88,252.14 L496.34,252.38 L496.81,252.62 L497.27,252.86 L497.73,253.08 L498.20,253.30 L498.66,253.52 L499.12,253.73 L499.59,253.93 L500.05,254.13 L500.51,254.32 L500.98,254.51 L501.44,254.69 L501.90,254.86 L502.37,255.03 L502.83,255.20 L503.29,255.36 L503.76,255.52 L504.22,255.67 L504.68,255.82 L505.15,255.96 L505.61,256.10 L506.07,256.24 L506.54,256.37 L507.00,256.50 L507.46,256.63 L507.93,256.75 L508.39,256.87 L508.85,256.98 L509.32,257.10 L509.78,257.21 L510.24,257.31 L510.71,257.41 L511.17,257.51 L511.63,257.61 L512.10,257.71 L512.56,257.80 L513.02,257.89 L513.49,257.98 L513.95,258.06 L514.41,258.14 L514.88,258.22 L515.34,258.30 L515.80,258.38 L516.26,258.45 L516.73,258.52 L517.19,258.59 L517.65,258.66 L518.12,258.73 L518.58,258.79 L519.04,258.85 L519.51,258.92 L519.97,258.97 L520.43,259.03 L520.90,259.09 L521.36,259.14 L521.82,259.20 L522.29,259.25 L522.75,259.30 L523.21,259.35 L523.68,259.39 L524.14,259.44 L524.60,259.49 L525.07,259.53 L525.53,259.57 L525.99,259.61 L526.46,259.65 L526.92,259.69 L527.38,259.73 L527.85,259.77 L528.31,259.81 L528.77,259.84 L529.24,259.88 L529.70,259.91 L530.16,259.94 L530.63,259.97 L531.09,260.00 L531.55,260.04 L532.02,260.06 L532.48,260.09 L532.94,260.12 L533.41,260.15 L533.87,260.17 L534.33,260.20 L534.80,260.22 L535.26,260.25 L535.72,260.27 L536.19,260.30 L536.65,260.32 L537.11,260.34 L537.58,260.36 L538.04,260.38 L538.50,260.40 L538.97,260.42 L539.43,260.44 L539.89,260.46 L540.36,260.48 L540.82,260.50 L541.28,260.51 L541.74,260.53 L542.21,260.55 L542.67,260.56 L543.13,260.58 L543.60,260.59 L544.06,260.61 L544.52,260.62 L544.99,260.64 L545.45,260.65 L545.91,260.66 L546.38,260.68 L546.84,260.69 L547.30,260.70 L547.77,260.71 L548.23,260.73 L548.69,260.74 L549.16,260.75 L549.62,260.76 L550.08,260.77 L550.55,260.78 L551.01,260.79 L551.47,260.80 L551.94,260.81 L552.40,260.82 L552.86,260.83 L553.33,260.84 L553.79,260.85 L554.25,260.85 L554.72,260.86 L555.18,260.87 L555.64,260.88 L556.11,260.89 L556.57,260.89 L557.03,260.90 L557.50,260.91 L557.96,260.91 L558.42,260.92 L558.89,260.93 L559.35,260.93 L559.81,260.94 L560.28,260.95 L560.74,260.95 L561.20,260.96 L561.67,260.96 L562.13,260.97 L562.59,260.97 L563.06,260.98 L563.52,260.98 L563.98,260.99 L564.45,260.99 L564.91,261.00 L565.37,261.00 L565.84,261.01 L566.30,261.01 L566.76,261.02 L567.22,261.02 L567.69,261.03 L568.15,261.03 L568.61,261.03 L569.08,261.04 L569.54,261.04 L570.00,261.04 L570.47,261.05 L570.93,261.05 L571.39,261.05 L571.86,261.06 L572.32,261.06 L572.78,261.06 L573.25,261.07 L573.71,261.07 L574.17,261.07 L574.64,261.08 L575.10,261.08 L575.56,261.08 L576.03,261.08 L576.49,261.09 L576.95,261.09 L577.42,261.09 L577.88,261.09 L578.34,261.10 L578.81,261.10 L579.27,261.10 L579.73,261.10 L580.20,261.11 L580.66,261.11 L581.12,261.11 L581.59,261.11 L582.05,261.11 L582.51,261.12 L582.98,261.12 L583.44,261.12 L583.90,261.12 L584.37,261.12 L584.83,261.12 L585.29,261.13 L585.76,261.13 L586.22,261.13 L586.68,261.13 L587.15,261.13 L587.61,261.13 L588.07,261.14 L588.54,261.14 L589.00,261.14 L589.46,261.14 L589.93,261.14 L590.39,261.14 L590.85,261.14 L591.32,261.14 L591.78,261.15 L592.24,261.15 L592.70,261.15 L593.17,261.15 L593.63,261.15 L594.09,261.15 L594.56,261.15 L595.02,261.15 L595.48,261.15 L595.95,261.16 L596.41,261.16 L596.87,261.16 L597.34,261.16 L597.80,261.16 L598.26,261.16 L598.73,261.16 L599.19,261.16 L599.65,261.16 L600.12,261.16 L600.58,261.16 L601.04,261.16 L601.51,261.17 L601.97,261.17 L602.43,261.17 L602.90,261.17 L603.36,261.17 L603.82,261.17 L604.29,261.17 L604.75,261.17 L605.21,261.17 L605.68,261.17 L606.14,261.17 L606.60,261.17 L607.07,261.17 L607.53,261.17 L607.99,261.17 L608.46,261.17 L608.92,261.18 L609.38,261.18 L609.85,261.18 L610.31,261.18 L610.77,261.18 L611.24,261.18 L611.70,261.18 L612.16,261.18 L612.63,261.18 L613.09,261.18 L613.55,261.18 L614.02,261.18 L614.48,261.18 L614.94,261.18 L615.41,261.18 L615.87,261.18 L616.33,261.18 L616.79,261.18 L617.26,261.18 L617.72,261.18 L618.18,261.18 L618.65,261.18 L619.11,261.18 L619.57,261.18 L620.04,261.19 L620.50,261.19 L620.96,261.19 L621.43,261.19 L621.89,261.19 L622.35,261.19 L622.82,261.19 L623.28,261.19 L623.74,261.19 L624.21,261.19 L624.67,261.19 L625.13,261.19 L625.60,261.19 L626.06,261.19 L626.52,261.19 L626.99,261.19 L627.45,261.19 L627.91,261.19 L628.38,261.19 L628.84,261.19 L629.30,261.19 L629.77,261.19 L630.23,261.19 L630.69,261.19 L631.16,261.19 L631.62,261.19 L632.08,261.19 L632.55,261.19 L633.01,261.19 L633.47,261.19 L633.94,261.19 L634.40,261.19 L634.86,261.19 L635.33,261.19 L635.79,261.19 L636.25,261.19 L636.72,261.19 L637.18,261.19 L637.64,261.19 L638.11,261.19 L638.57,261.19 L639.03,261.19 L639.50,261.19 L639.96,261.19 L640.42,261.19 L640.89,261.19 L641.35,261.19 L641.81,261.19 L642.27,261.19 L642.74,261.19 L643.20,261.19 L643.66,261.19 L644.13,261.19 L644.59,261.19 L645.05,261.19 L645.52,261.19 L645.98,261.20 L646.44,261.20 L646.91,261.20 L647.37,261.20 L647.83,261.20 L648.30,261.20 L648.76,261.20 L649.22,261.20 L649.69,261.20 L650.15,261.20 L650.61,261.20 L651.08,261.20 L651.54,261.20 L652.00,261.20 L652.47,261.20 L652.93,261.20 L653.39,261.20 L653.86,261.20 L654.32,261.20 L654.78,261.20 L655.25,261.20 L655.71,261.20 L656.17,261.20 L656.64,261.20 L657.10,261.20 L657.56,261.20 L658.03,261.20 L658.49,261.20 L658.95,261.20 L659.42,261.20 L659.88,261.20 L660.34,261.20 L660.81,261.20 L661.27,261.20 L661.73,261.20 L662.20,261.20 L662.66,261.20 L663.12,261.20 L663.59,261.20 L664.05,261.20 L664.51,261.20 L664.98,261.20 L665.44,261.20 L665.90,261.20 L666.37,261.20 L666.83,261.20 L667.29,261.20 L667.75,261.20 L668.22,261.20 L668.68,261.20 L669.14,261.20 L669.61,261.20 L670.07,261.20 L670.53,261.20 L671.00,261.20 L671.46,261.20 L671.92,261.20 L672.39,261.20 L672.85,261.20 L673.31,261.20 L673.78,261.20 L674.24,261.20 L674.70,261.20 L675.17,261.20 L675.63,261.20 L676.09,261.20 L676.56,261.20 L677.02,261.20 L677.48,261.20 L677.95,261.20 L678.41,261.20 L678.87,261.20 L679.34,261.20 L679.80,261.20" fill="none" stroke="#00ffff" stroke-width="2.5" stroke-linejoin="round" stroke-linecap="butt"/>
<path d="M402.30,261.20 L402.76,261.20 L403.23,261.20 L403.69,261.20 L404.15,261.20 L404.62,261.18 L405.08,261.13 L405.54,261.01 L406.01,260.77 L406.47,260.35 L406.93,259.69 L407.40,258.72 L407.86,257.40 L408.32,255.68 L408.79,253.53 L409.25,250.93 L409.71,247.87 L410.18,244.36 L410.64,240.41 L411.10,236.05 L411.57,231.30 L412.03,226.20 L412.49,220.79 L412.96,215.12 L413.42,209.22 L413.88,203.14 L414.35,196.93 L414.81,190.62 L415.27,184.26 L415.73,177.88 L416.20,171.52 L416.66,165.21 L417.12,158.98 L417.59,152.87 L418.05,146.88 L418.51,141.06 L418.98,135.40 L419.44,129.94 L419.90,124.68 L420.37,119.63 L420.83,114.81 L421.29,110.23 L421.76,105.87 L422.22,101.76 L422.68,97.90 L423.15,94.27 L423.61,90.89 L424.07,87.76 L424.54,84.86 L425.00,82.20 L425.46,79.77 L425.93,77.56 L426.39,75.58 L426.85,73.82 L427.32,72.26 L427.78,70.91 L428.24,69.76 L428.71,68.80 L429.17,68.02 L429.63,67.41 L430.10,66.98 L430.56,66.71 L431.02,66.59 L431.49,66.62 L431.95,66.79 L432.41,67.09 L432.88,67.52 L433.34,68.07 L433.80,68.74 L434.27,69.51 L434.73,70.38 L435.19,71.35 L435.66,72.41 L436.12,73.55 L436.58,74.77 L437.05,76.07 L437.51,77.43 L437.97,78.86 L438.44,80.34 L438.90,81.88 L439.36,83.47 L439.83,85.11 L440.29,86.78 L440.75,88.50 L441.21,90.25 L441.68,92.03 L442.14,93.84 L442.60,95.67 L443.07,97.52 L443.53,99.40 L443.99,101.29 L444.46,103.19 L444.92,105.11 L445.38,107.03 L445.85,108.96 L446.31,110.90 L446.77,112.84 L447.24,114.78 L447.70,116.72 L448.16,118.65 L448.63,120.59 L449.09,122.51 L449.55,124.44 L450.02,126.35 L450.48,128.26 L450.94,130.15 L451.41,132.04 L451.87,133.91 L452.33,135.77 L452.80,137.62 L453.26,139.46 L453.72,141.27 L454.19,143.08 L454.65,144.86 L455.11,146.64 L455.58,148.39 L456.04,150.13 L456.50,151.84 L456.97,153.55 L457.43,155.23 L457.89,156.89 L458.36,158.54 L458.82,160.16 L459.28,161.77 L459.75,163.35 L460.21,164.92 L460.67,166.47 L461.14,167.99 L461.60,169.50 L462.06,170.99 L462.53,172.45 L462.99,173.90 L463.45,175.33 L463.92,176.74 L464.38,178.13 L464.84,179.49 L465.31,180.84 L465.77,182.17 L466.23,183.48 L466.69,184.77 L467.16,186.04 L467.62,187.29 L468.08,188.53 L468.55,189.74 L469.01,190.94 L469.47,192.12 L469.94,193.27 L470.40,194.42 L470.86,195.54 L471.33,196.64 L471.79,197.73 L472.25,198.80 L472.72,199.86 L473.18,200.89 L473.64,201.91 L474.11,202.91 L474.57,203.90 L475.03,204.87 L475.50,205.83 L475.96,206.76 L476.42,207.69 L476.89,208.60 L477.35,209.49 L477.81,210.37 L478.28,211.23 L478.74,212.08 L479.20,212.91 L479.67,213.73 L480.13,214.54 L480.59,215.33 L481.06,216.11 L481.52,216.88 L481.98,217.63 L482.45,218.37 L482.91,219.10 L483.37,219.81 L483.84,220.52 L484.30,221.21 L484.76,221.89 L485.23,222.55 L485.69,223.21 L486.15,223.85 L486.62,224.49 L487.08,225.11 L487.54,225.72 L488.01,226.32 L488.47,226.91 L488.93,227.49 L489.40,228.06 L489.86,228.62 L490.32,229.17 L490.78,229.71 L491.25,230.24 L491.71,230.77 L492.17,231.28 L492.64,231.78 L493.10,232.28 L493.56,232.77 L494.03,233.24 L494.49,233.71 L494.95,234.17 L495.42,234.63 L495.88,235.07 L496.34,235.51 L496.81,235.94 L497.27,236.36 L497.73,236.78 L498.20,237.19 L498.66,237.59 L499.12,237.98 L499.59,238.37 L500.05,238.75 L500.51,239.12 L500.98,239.49 L501.44,239.85 L501.90,240.20 L502.37,240.55 L502.83,240.89 L503.29,241.23 L503.76,241.56 L504.22,241.88 L504.68,242.20 L505.15,242.52 L505.61,242.82 L506.07,243.13 L506.54,243.42 L507.00,243.71 L507.46,244.00 L507.93,244.28 L508.39,244.56 L508.85,244.83 L509.32,245.10 L509.78,245.36 L510.24,245.62 L510.71,245.87 L511.17,246.12 L511.63,246.37 L512.10,246.61 L512.56,246.85 L513.02,247.08 L513.49,247.31 L513.95,247.53 L514.41,247.75 L514.88,247.97 L515.34,248.18 L515.80,248.39 L516.26,248.60 L516.73,248.80 L517.19,249.00 L517.65,249.20 L518.12,249.39 L518.58,249.58 L519.04,249.76 L519.51,249.94 L519.97,250.12 L520.43,250.30 L520.90,250.47 L521.36,250.64 L521.82,250.81 L522.29,250.98 L522.75,251.14 L523.21,251.30 L523.68,251.45 L524.14,251.61 L524.60,251.76 L525.07,251.91 L525.53,252.05 L525.99,252.20 L526.46,252.34 L526.92,252.48 L527.38,252.61 L527.85,252.75 L528.31,252.88 L528.77,253.01 L529.24,253.14 L529.70,253.26 L530.16,253.39 L530.63,253.51 L531.09,253.63 L531.55,253.74 L532.02,253.86 L532.48,253.97 L532.94,254.08 L533.41,254.19 L533.87,254.30 L534.33,254.41 L534.80,254.51 L535.26,254.61 L535.72,254.72 L536.19,254.81 L536.65,254.91 L537.11,255.01 L537.58,255.10 L538.04,255.20 L538.50,255.29 L538.97,255.38 L539.43,255.46 L539.89,255.55 L540.36,255.64 L540.82,255.72 L541.28,255.80 L541.74,255.89 L542.21,255.97 L542.67,256.04 L543.13,256.12 L543.60,256.20 L544.06,256.27 L544.52,256.35 L544.99,256.42 L545.45,256.49 L545.91,256.56 L546.38,256.63 L546.84,256.70 L547.30,256.76 L547.77,256.83 L548.23,256.90 L548.69,256.96 L549.16,257.02 L549.62,257.08 L550.08,257.14 L550.55,257.20 L551.01,257.26 L551.47,257.32 L551.94,257.38 L552.40,257.43 L552.86,257.49 L553.33,257.54 L553.79,257.60 L554.25,257.65 L554.72,257.70 L555.18,257.75 L555.64,257.80 L556.11,257.85 L556.57,257.90 L557.03,257.95 L557.50,258.00 L557.96,258.04 L558.42,258.09 L558.89,258.13 L559.35,258.18 L559.81,258.22 L560.28,258.26 L560.74,258.30 L561.20,258.35 L561.67,258.39 L562.13,258.43 L562.59,258.47 L563.06,258.51 L563.52,258.54 L563.98,258.58 L564.45,258.62 L564.91,258.66 L565.37,258.69 L565.84,258.73 L566.30,258.76 L566.76,258.80 L567.22,258.83 L567.69,258.86 L568.15,258.90 L568.61,258.93 L569.08,258.96 L569.54,258.99 L570.00,259.02 L570.47,259.05 L570.93,259.08 L571.39,259.11 L571.86,259.14 L572.32,259.17 L572.78,259.20 L573.25,259.23 L573.71,259.26 L574.17,259.28 L574.64,259.31 L575.10,259.33 L575.56,259.36 L576.03,259.39 L576.49,259.41 L576.95,259.44 L577.42,259.46 L577.88,259.48 L578.34,259.51 L578.81,259.53 L579.27,259.55 L579.73,259.58 L580.20,259.60 L580.66,259.62 L581.12,259.64 L581.59,259.66 L582.05,259.68 L582.51,259.70 L582.98,259.72 L583.44,259.74 L583.90,259.76 L584.37,259.78 L584.83,259.80 L585.29,259.82 L585.76,259.84 L586.22,259.86 L586.68,259.88 L587.15,259.89 L587.61,259.91 L588.07,259.93 L588.54,259.95 L589.00,259.96 L589.46,259.98 L589.93,260.00 L590.39,260.01 L590.85,260.03 L591.32,260.04 L591.78,260.06 L592.24,260.07 L592.70,260.09 L593.17,260.10 L593.63,260.12 L594.09,260.13 L594.56,260.15 L595.02,260.16 L595.48,260.17 L595.95,260.19 L596.41,260.20 L596.87,260.21 L597.34,260.23 L597.80,260.24 L598.26,260.25 L598.73,260.26 L599.19,260.28 L599.65,260.29 L600.12,260.30 L600.58,260.31 L601.04,260.32 L601.51,260.33 L601.97,260.35 L602.43,260.36 L602.90,260.37 L603.36,260.38 L603.82,260.39 L604.29,260.40 L604.75,260.41 L605.21,260.42 L605.68,260.43 L606.14,260.44 L606.60,260.45 L607.07,260.46 L607.53,260.47 L607.99,260.48 L608.46,260.49 L608.92,260.50 L609.38,260.51 L609.85,260.51 L610.31,260.52 L610.77,260.53 L611.24,260.54 L611.70,260.55 L612.16,260.56 L612.63,260.56 L613.09,260.57 L613.55,260.58 L614.02,260.59 L614.48,260.60 L614.94,260.60 L615.41,260.61 L615.87,260.62 L616.33,260.63 L616.79,260.63 L617.26,260.64 L617.72,260.65 L618.18,260.65 L618.65,260.66 L619.11,260.67 L619.57,260.67 L620.04,260.68 L620.50,260.69 L620.96,260.69 L621.43,260.70 L621.89,260.71 L622.35,260.71 L622.82,260.72 L623.28,260.72 L623.74,260.73 L624.21,260.74 L624.67,260.74 L625.13,260.75 L625.60,260.75 L626.06,260.76 L626.52,260.76 L626.99,260.77 L627.45,260.77 L627.91,260.78 L628.38,260.78 L628.84,260.79 L629.30,260.79 L629.77,260.80 L630.23,260.80 L630.69,260.81 L631.16,260.81 L631.62,260.82 L632.08,260.82 L632.55,260.83 L633.01,260.83 L633.47,260.84 L633.94,260.84 L634.40,260.84 L634.86,260.85 L635.33,260.85 L635.79,260.86 L636.25,260.86 L636.72,260.87 L637.18,260.87 L637.64,260.87 L638.11,260.88 L638.57,260.88 L639.03,260.89 L639.50,260.89 L639.96,260.89 L640.42,260.90 L640.89,260.90 L641.35,260.90 L641.81,260.91 L642.27,260.91 L642.74,260.91 L643.20,260.92 L643.66,260.92 L644.13,260.92 L644.59,260.93 L645.05,260.93 L645.52,260.93 L645.98,260.94 L646.44,260.94 L646.91,260.94 L647.37,260.95 L647.83,260.95 L648.30,260.95 L648.76,260.95 L649.22,260.96 L649.69,260.96 L650.15,260.96 L650.61,260.97 L651.08,260.97 L651.54,260.97 L652.00,260.97 L652.47,260.98 L652.93,260.98 L653.39,260.98 L653.86,260.98 L654.32,260.99 L654.78,260.99 L655.25,260.99 L655.71,260.99 L656.17,261.00 L656.64,261.00 L657.10,261.00 L657.56,261.00 L658.03,261.01 L658.49,261.01 L658.95,261.01 L659.42,261.01 L659.88,261.01 L660.34,261.02 L660.81,261.02 L661.27,261.02 L661.73,261.02 L662.20,261.02 L662.66,261.03 L663.12,261.03 L663.59,261.03 L664.05,261.03 L664.51,261.03 L664.98,261.04 L665.44,261.04 L665.90,261.04 L666.37,261.04 L666.83,261.04 L667.29,261.04 L667.75,261.05 L668.22,261.05 L668.68,261.05 L669.14,261.05 L669.61,261.05 L670.07,261.05 L670.53,261.06 L671.00,261.06 L671.46,261.06 L671.92,261.06 L672.39,261.06 L672.85,261.06 L673.31,261.07 L673.78,261.07 L674.24,261.07 L674.70,261.07 L675.17,261.07 L675.63,261.07 L676.09,261.07 L676.56,261.08 L677.02,261.08 L677.48,261.08 L677.95,261.08 L678.41,261.08 L678.87,261.08 L679.34,261.08 L679.80,261.08" fill="none" stroke="#ffc000" stroke-width="2.5" stroke-linejoin="round" stroke-linecap="butt"/>
<path d="M402.30,261.20 L402.76,260.77 L403.23,259.31 L403.69,257.26 L404.15,254.96 L404.62,252.57 L405.08,250.20 L405.54,247.90 L406.01,245.70 L406.47,243.61 L406.93,241.65 L407.40,239.80 L407.86,238.08 L408.32,236.46 L408.79,234.96 L409.25,233.55 L409.71,232.25 L410.18,231.03 L410.64,229.90 L411.10,228.85 L411.57,227.87 L412.03,226.97 L412.49,226.13 L412.96,225.35 L413.42,224.62 L413.88,223.95 L414.35,223.33 L414.81,222.76 L415.27,222.23 L415.73,221.74 L416.20,221.29 L416.66,220.88 L417.12,220.50 L417.59,220.15 L418.05,219.83 L418.51,219.54 L418.98,219.27 L419.44,219.03 L419.90,218.82 L420.37,218.62 L420.83,218.45 L421.29,218.29 L421.76,218.15 L422.22,218.03 L422.68,217.93 L423.15,217.84 L423.61,217.77 L424.07,217.71 L424.54,217.66 L425.00,217.62 L425.46,217.60 L425.93,217.58 L426.39,217.58 L426.85,217.58 L427.32,217.60 L427.78,217.62 L428.24,217.65 L428.71,217.69 L429.17,217.74 L429.63,217.79 L430.10,217.85 L430.56,217.91 L431.02,217.98 L431.49,218.06 L431.95,218.14 L432.41,218.23 L432.88,218.32 L433.34,218.41 L433.80,218.51 L434.27,218.61 L434.73,218.72 L435.19,218.83 L435.66,218.94 L436.12,219.05 L436.58,219.17 L437.05,219.29 L437.51,219.41 L437.97,219.54 L438.44,219.67 L438.90,219.80 L439.36,219.93 L439.83,220.06 L440.29,220.19 L440.75,220.33 L441.21,220.47 L441.68,220.61 L442.14,220.75 L442.60,220.89 L443.07,221.03 L443.53,221.17 L443.99,221.32 L444.46,221.46 L444.92,221.61 L445.38,221.75 L445.85,221.90 L446.31,222.05 L446.77,222.19 L447.24,222.34 L447.70,222.49 L448.16,222.64 L448.63,222.79 L449.09,222.94 L449.55,223.09 L450.02,223.24 L450.48,223.38 L450.94,223.53 L451.41,223.68 L451.87,223.83 L452.33,223.98 L452.80,224.13 L453.26,224.28 L453.72,224.43 L454.19,224.58 L454.65,224.73 L455.11,224.88 L455.58,225.02 L456.04,225.17 L456.50,225.32 L456.97,225.47 L457.43,225.61 L457.89,225.76 L458.36,225.91 L458.82,226.05 L459.28,226.20 L459.75,226.34 L460.21,226.49 L460.67,226.63 L461.14,226.78 L461.60,226.92 L462.06,227.06 L462.53,227.20 L462.99,227.35 L463.45,227.49 L463.92,227.63 L464.38,227.77 L464.84,227.91 L465.31,228.05 L465.77,228.19 L466.23,228.32 L466.69,228.46 L467.16,228.60 L467.62,228.73 L468.08,228.87 L468.55,229.01 L469.01,229.14 L469.47,229.27 L469.94,229.41 L470.40,229.54 L470.86,229.67 L471.33,229.81 L471.79,229.94 L472.25,230.07 L472.72,230.20 L473.18,230.33 L473.64,230.45 L474.11,230.58 L474.57,230.71 L475.03,230.84 L475.50,230.96 L475.96,231.09 L476.42,231.21 L476.89,231.34 L477.35,231.46 L477.81,231.59 L478.28,231.71 L478.74,231.83 L479.20,231.95 L479.67,232.07 L480.13,232.19 L480.59,232.31 L481.06,232.43 L481.52,232.55 L481.98,232.67 L482.45,232.79 L482.91,232.90 L483.37,233.02 L483.84,233.13 L484.30,233.25 L484.76,233.36 L485.23,233.48 L485.69,233.59 L486.15,233.70 L486.62,233.82 L487.08,233.93 L487.54,234.04 L488.01,234.15 L488.47,234.26 L488.93,234.37 L489.40,234.47 L489.86,234.58 L490.32,234.69 L490.78,234.80 L491.25,234.90 L491.71,235.01 L492.17,235.11 L492.64,235.22 L493.10,235.32 L493.56,235.43 L494.03,235.53 L494.49,235.63 L494.95,235.73 L495.42,235.84 L495.88,235.94 L496.34,236.04 L496.81,236.14 L497.27,236.24 L497.73,236.33 L498.20,236.43 L498.66,236.53 L499.12,236.63 L499.59,236.72 L500.05,236.82 L500.51,236.92 L500.98,237.01 L501.44,237.11 L501.90,237.20 L502.37,237.29 L502.83,237.39 L503.29,237.48 L503.76,237.57 L504.22,237.66 L504.68,237.75 L505.15,237.84 L505.61,237.93 L506.07,238.02 L506.54,238.11 L507.00,238.20 L507.46,238.29 L507.93,238.38 L508.39,238.47 L508.85,238.55 L509.32,238.64 L509.78,238.73 L510.24,238.81 L510.71,238.90 L511.17,238.98 L511.63,239.07 L512.10,239.15 L512.56,239.23 L513.02,239.32 L513.49,239.40 L513.95,239.48 L514.41,239.56 L514.88,239.64 L515.34,239.72 L515.80,239.80 L516.26,239.88 L516.73,239.96 L517.19,240.04 L517.65,240.12 L518.12,240.20 L518.58,240.28 L519.04,240.36 L519.51,240.43 L519.97,240.51 L520.43,240.59 L520.90,240.66 L521.36,240.74 L521.82,240.81 L522.29,240.89 L522.75,240.96 L523.21,241.04 L523.68,241.11 L524.14,241.18 L524.60,241.25 L525.07,241.33 L525.53,241.40 L525.99,241.47 L526.46,241.54 L526.92,241.61 L527.38,241.68 L527.85,241.75 L528.31,241.82 L528.77,241.89 L529.24,241.96 L529.70,242.03 L530.16,242.10 L530.63,242.17 L531.09,242.24 L531.55,242.31 L532.02,242.37 L532.48,242.44 L532.94,242.51 L533.41,242.57 L533.87,242.64 L534.33,242.70 L534.80,242.77 L535.26,242.83 L535.72,242.90 L536.19,242.96 L536.65,243.03 L537.11,243.09 L537.58,243.15 L538.04,243.22 L538.50,243.28 L538.97,243.34 L539.43,243.40 L539.89,243.47 L540.36,243.53 L540.82,243.59 L541.28,243.65 L541.74,243.71 L542.21,243.77 L542.67,243.83 L543.13,243.89 L543.60,243.95 L544.06,244.01 L544.52,244.07 L544.99,244.13 L545.45,244.18 L545.91,244.24 L546.38,244.30 L546.84,244.36 L547.30,244.41 L547.77,244.47 L548.23,244.53 L548.69,244.58 L549.16,244.64 L549.62,244.70 L550.08,244.75 L550.55,244.81 L551.01,244.86 L551.47,244.92 L551.94,244.97 L552.40,245.02 L552.86,245.08 L553.33,245.13 L553.79,245.19 L554.25,245.24 L554.72,245.29 L555.18,245.34 L555.64,245.40 L556.11,245.45 L556.57,245.50 L557.03,245.55 L557.50,245.60 L557.96,245.66 L558.42,245.71 L558.89,245.76 L559.35,245.81 L559.81,245.86 L560.28,245.91 L560.74,245.96 L561.20,246.01 L561.67,246.06 L562.13,246.11 L562.59,246.16 L563.06,246.20 L563.52,246.25 L563.98,246.30 L564.45,246.35 L564.91,246.40 L565.37,246.44 L565.84,246.49 L566.30,246.54 L566.76,246.59 L567.22,246.63 L567.69,246.68 L568.15,246.73 L568.61,246.77 L569.08,246.82 L569.54,246.86 L570.00,246.91 L570.47,246.95 L570.93,247.00 L571.39,247.04 L571.86,247.09 L572.32,247.13 L572.78,247.18 L573.25,247.22 L573.71,247.26 L574.17,247.31 L574.64,247.35 L575.10,247.40 L575.56,247.44 L576.03,247.48 L576.49,247.52 L576.95,247.57 L577.42,247.61 L577.88,247.65 L578.34,247.69 L578.81,247.73 L579.27,247.78 L579.73,247.82 L580.20,247.86 L580.66,247.90 L581.12,247.94 L581.59,247.98 L582.05,248.02 L582.51,248.06 L582.98,248.10 L583.44,248.14 L583.90,248.18 L584.37,248.22 L584.83,248.26 L585.29,248.30 L585.76,248.34 L586.22,248.38 L586.68,248.42 L587.15,248.46 L587.61,248.49 L588.07,248.53 L588.54,248.57 L589.00,248.61 L589.46,248.65 L589.93,248.68 L590.39,248.72 L590.85,248.76 L591.32,248.80 L591.78,248.83 L592.24,248.87 L592.70,248.91 L593.17,248.94 L593.63,248.98 L594.09,249.02 L594.56,249.05 L595.02,249.09 L595.48,249.12 L595.95,249.16 L596.41,249.20 L596.87,249.23 L597.34,249.27 L597.80,249.30 L598.26,249.34 L598.73,249.37 L599.19,249.40 L599.65,249.44 L600.12,249.47 L600.58,249.51 L601.04,249.54 L601.51,249.58 L601.97,249.61 L602.43,249.64 L602.90,249.68 L603.36,249.71 L603.82,249.74 L604.29,249.78 L604.75,249.81 L605.21,249.84 L605.68,249.87 L606.14,249.91 L606.60,249.94 L607.07,249.97 L607.53,250.00 L607.99,250.04 L608.46,250.07 L608.92,250.10 L609.38,250.13 L609.85,250.16 L610.31,250.19 L610.77,250.23 L611.24,250.26 L611.70,250.29 L612.16,250.32 L612.63,250.35 L613.09,250.38 L613.55,250.41 L614.02,250.44 L614.48,250.47 L614.94,250.50 L615.41,250.53 L615.87,250.56 L616.33,250.59 L616.79,250.62 L617.26,250.65 L617.72,250.68 L618.18,250.71 L618.65,250.74 L619.11,250.77 L619.57,250.80 L620.04,250.82 L620.50,250.85 L620.96,250.88 L621.43,250.91 L621.89,250.94 L622.35,250.97 L622.82,250.99 L623.28,251.02 L623.74,251.05 L624.21,251.08 L624.67,251.11 L625.13,251.13 L625.60,251.16 L626.06,251.19 L626.52,251.22 L626.99,251.24 L627.45,251.27 L627.91,251.30 L628.38,251.32 L628.84,251.35 L629.30,251.38 L629.77,251.40 L630.23,251.43 L630.69,251.46 L631.16,251.48 L631.62,251.51 L632.08,251.54 L632.55,251.56 L633.01,251.59 L633.47,251.61 L633.94,251.64 L634.40,251.66 L634.86,251.69 L635.33,251.72 L635.79,251.74 L636.25,251.77 L636.72,251.79 L637.18,251.82 L637.64,251.84 L638.11,251.87 L638.57,251.89 L639.03,251.92 L639.50,251.94 L639.96,251.96 L640.42,251.99 L640.89,252.01 L641.35,252.04 L641.81,252.06 L642.27,252.09 L642.74,252.11 L643.20,252.13 L643.66,252.16 L644.13,252.18 L644.59,252.20 L645.05,252.23 L645.52,252.25 L645.98,252.27 L646.44,252.30 L646.91,252.32 L647.37,252.34 L647.83,252.37 L648.30,252.39 L648.76,252.41 L649.22,252.43 L649.69,252.46 L650.15,252.48 L650.61,252.50 L651.08,252.52 L651.54,252.55 L652.00,252.57 L652.47,252.59 L652.93,252.61 L653.39,252.64 L653.86,252.66 L654.32,252.68 L654.78,252.70 L655.25,252.72 L655.71,252.74 L656.17,252.77 L656.64,252.79 L657.10,252.81 L657.56,252.83 L658.03,252.85 L658.49,252.87 L658.95,252.89 L659.42,252.91 L659.88,252.93 L660.34,252.96 L660.81,252.98 L661.27,253.00 L661.73,253.02 L662.20,253.04 L662.66,253.06 L663.12,253.08 L663.59,253.10 L664.05,253.12 L664.51,253.14 L664.98,253.16 L665.44,253.18 L665.90,253.20 L666.37,253.22 L666.83,253.24 L667.29,253.26 L667.75,253.28 L668.22,253.30 L668.68,253.32 L669.14,253.34 L669.61,253.36 L670.07,253.38 L670.53,253.40 L671.00,253.41 L671.46,253.43 L671.92,253.45 L672.39,253.47 L672.85,253.49 L673.31,253.51 L673.78,253.53 L674.24,253.55 L674.70,253.57 L675.17,253.58 L675.63,253.60 L676.09,253.62 L676.56,253.64 L677.02,253.66 L677.48,253.68 L677.95,253.69 L678.41,253.71 L678.87,253.73 L679.34,253.75 L679.80,253.77" fill="none" stroke="#ff0000" stroke-width="2.5" stroke-linejoin="round" stroke-linecap="butt"/>
<line x1="399.1" y1="263.4" x2="682.8" y2="263.4" stroke="#444" stroke-width="1"/>
<line x1="396.0" y1="261.20" x2="399.6" y2="261.20" stroke="#333" stroke-width="1"/>
<text x="393.1" y="265.00" text-anchor="end" class="tk">0</text>
<line x1="397.40000000000003" y1="238.83" x2="399.6" y2="238.83" stroke="#333" stroke-width="1"/>
<line x1="396.0" y1="216.46" x2="399.6" y2="216.46" stroke="#333" stroke-width="1"/>
<text x="393.1" y="220.26" text-anchor="end" class="tk">2</text>
<line x1="397.40000000000003" y1="194.09" x2="399.6" y2="194.09" stroke="#333" stroke-width="1"/>
<line x1="396.0" y1="171.72" x2="399.6" y2="171.72" stroke="#333" stroke-width="1"/>
<text x="393.1" y="175.52" text-anchor="end" class="tk">4</text>
<line x1="397.40000000000003" y1="149.35" x2="399.6" y2="149.35" stroke="#333" stroke-width="1"/>
<line x1="396.0" y1="126.98" x2="399.6" y2="126.98" stroke="#333" stroke-width="1"/>
<text x="393.1" y="130.78" text-anchor="end" class="tk">6</text>
<line x1="397.40000000000003" y1="104.61" x2="399.6" y2="104.61" stroke="#333" stroke-width="1"/>
<line x1="396.0" y1="82.24" x2="399.6" y2="82.24" stroke="#333" stroke-width="1"/>
<text x="393.1" y="86.04" text-anchor="end" class="tk">8</text>
<line x1="397.40000000000003" y1="59.87" x2="399.6" y2="59.87" stroke="#333" stroke-width="1"/>
<line x1="396.0" y1="37.50" x2="399.6" y2="37.50" stroke="#333" stroke-width="1"/>
<text x="393.1" y="41.30" text-anchor="end" class="tk">10</text>
<line x1="397.40000000000003" y1="15.13" x2="399.6" y2="15.13" stroke="#333" stroke-width="1"/>
<line x1="402.30" y1="263.4" x2="402.30" y2="267.9" stroke="#333" stroke-width="1"/>
<text x="402.30" y="278.59999999999997" text-anchor="middle" class="tk">0</text>
<line x1="494.80" y1="263.4" x2="494.80" y2="267.9" stroke="#333" stroke-width="1"/>
<text x="493.90" y="278.59999999999997" text-anchor="middle" class="tk">0.5</text>
<line x1="587.30" y1="263.4" x2="587.30" y2="267.9" stroke="#333" stroke-width="1"/>
<text x="586.50" y="278.59999999999997" text-anchor="middle" class="tk">1</text>
<line x1="679.80" y1="263.4" x2="679.80" y2="267.9" stroke="#333" stroke-width="1"/>
<text x="679.80" y="278.59999999999997" text-anchor="middle" class="tk">1.5</text>
<line x1="420.80" y1="263.4" x2="420.80" y2="265.59999999999997" stroke="#333" stroke-width="1"/>
<line x1="439.30" y1="263.4" x2="439.30" y2="265.59999999999997" stroke="#333" stroke-width="1"/>
<line x1="457.80" y1="263.4" x2="457.80" y2="265.59999999999997" stroke="#333" stroke-width="1"/>
<line x1="476.30" y1="263.4" x2="476.30" y2="265.59999999999997" stroke="#333" stroke-width="1"/>
<line x1="513.30" y1="263.4" x2="513.30" y2="265.59999999999997" stroke="#333" stroke-width="1"/>
<line x1="531.80" y1="263.4" x2="531.80" y2="265.59999999999997" stroke="#333" stroke-width="1"/>
<line x1="550.30" y1="263.4" x2="550.30" y2="265.59999999999997" stroke="#333" stroke-width="1"/>
<line x1="568.80" y1="263.4" x2="568.80" y2="265.59999999999997" stroke="#333" stroke-width="1"/>
<line x1="605.80" y1="263.4" x2="605.80" y2="265.59999999999997" stroke="#333" stroke-width="1"/>
<line x1="624.30" y1="263.4" x2="624.30" y2="265.59999999999997" stroke="#333" stroke-width="1"/>
<line x1="642.80" y1="263.4" x2="642.80" y2="265.59999999999997" stroke="#333" stroke-width="1"/>
<line x1="661.30" y1="263.4" x2="661.30" y2="265.59999999999997" stroke="#333" stroke-width="1"/>
<text x="531" y="8.9" text-anchor="middle" class="ti">Probability density curve of Ia(t)</text>
<text x="540.6" y="289.9" text-anchor="middle" class="xl">Ia</text>
<rect x="0.5" y="290.45" width="294.1" height="14.55" fill="#fff" stroke="#2a2a2a" stroke-width="1.2"/>
<line x1="3.6" y1="297.3" x2="30.6" y2="297.3" stroke="#00ffff" stroke-width="2.6"/>
<text x="35" y="301" class="lg" textLength="65.6" lengthAdjust="spacingAndGlyphs">σ1=0.05, σ2=0.05</text>
<line x1="106" y1="297.3" x2="132.7" y2="297.3" stroke="#ffc000" stroke-width="2.6"/>
<text x="137" y="301" class="lg" textLength="62" lengthAdjust="spacingAndGlyphs">σ1=0.05, σ2=0.1</text>
<line x1="203.4" y1="297.3" x2="230.3" y2="297.3" stroke="#ff0000" stroke-width="2.6"/>
<text x="234.6" y="301" class="lg" textLength="57" lengthAdjust="spacingAndGlyphs">σ1=0.1, σ2=0.1</text>
<rect x="382.2" y="290.45" width="295.09999999999997" height="14.55" fill="#fff" stroke="#2a2a2a" stroke-width="1.2"/>
<line x1="385.3" y1="297.3" x2="412.3" y2="297.3" stroke="#00ffff" stroke-width="2.6"/>
<text x="416.7" y="301" class="lg" textLength="65.6" lengthAdjust="spacingAndGlyphs">σ1=0.05, σ2=0.05</text>
<line x1="487.7" y1="297.3" x2="514.4" y2="297.3" stroke="#ffc000" stroke-width="2.6"/>
<text x="518.7" y="301" class="lg" textLength="62" lengthAdjust="spacingAndGlyphs">σ1=0.05, σ2=0.1</text>
<line x1="585.1" y1="297.3" x2="612" y2="297.3" stroke="#ff0000" stroke-width="2.6"/>
<text x="616.1" y="301" class="lg" textLength="57" lengthAdjust="spacingAndGlyphs">σ1=0.1, σ2=0.1</text>
<text x="65.2" y="342.9" class="cl">(a)</text>
<text x="93.6" y="343.6" class="cp">Probability density curve of</text>
<text transform="translate(268.3,343.5) scale(1.33,1)" class="mi" style="font-size:16.2px">S</text>
<text x="443.8" y="342.9" class="cl">(b)</text>
<text x="473.4" y="343.6" class="cp" style="word-spacing:0.75px">Probability density curve of</text>
<text transform="translate(651.9,343.5) scale(1.42,1)" class="mi" style="font-size:16.2px">I</text>
<text transform="translate(660.6,346.0) scale(1.25,1)" class="mi" style="font-size:13.6px">a</text>
</svg>
</body></html>
